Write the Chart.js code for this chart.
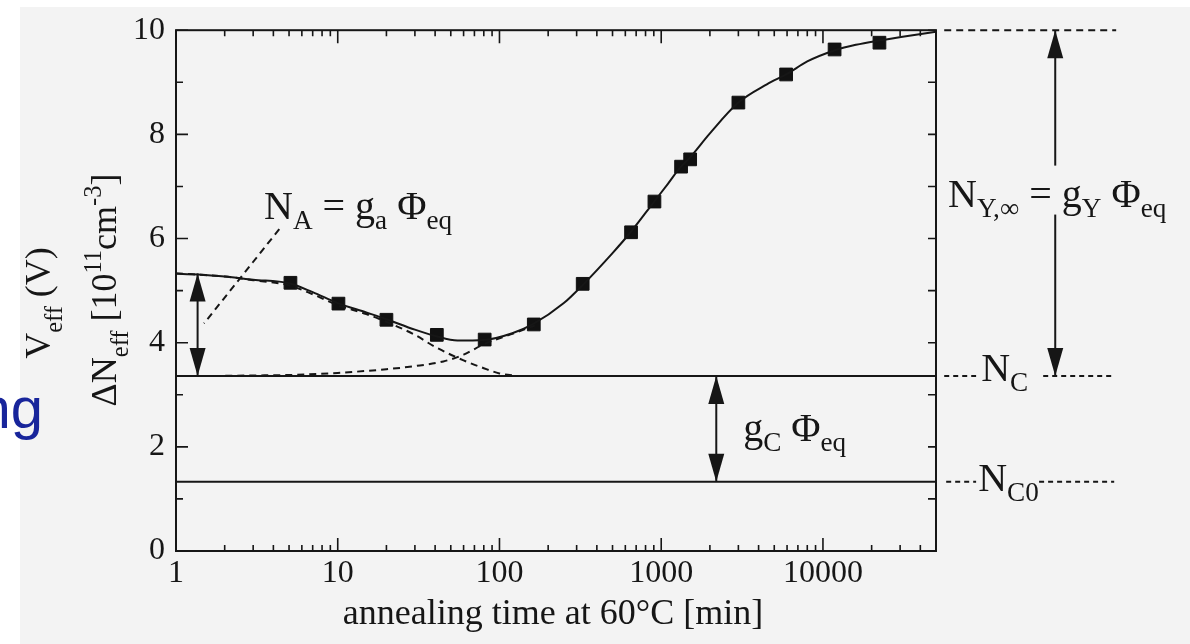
<!DOCTYPE html>
<html><head><meta charset="utf-8">
<script src="https://cdn.jsdelivr.net/npm/chart.js@4.4.1/dist/chart.umd.min.js"></script>
<style>
html,body{margin:0;padding:0;background:#fff;}
#wrap{position:relative;width:1190px;height:644px;overflow:hidden;}
#scan{position:absolute;left:20px;top:7px;right:0;bottom:0;background:#f3f3f3;}
canvas{position:absolute;left:0;top:0;}
</style></head><body>
<div id="wrap"><div id="scan"></div><canvas id="c" width="1190" height="644"></canvas></div>
<script>
// ---- data ----
const markerTime = [5.1, 10.1, 20, 41, 81, 163, 327, 651, 908, 1327, 1510, 3000, 5920, 11800, 22350];
const markerNeff = [5.15, 4.75, 4.44, 4.15, 4.06, 4.35, 5.13, 6.12, 6.71, 7.38, 7.52, 8.61, 9.15, 9.63, 9.76];
const fitTime = [1, 2, 3, 5, 7, 10, 15, 20, 30, 40, 55, 80, 120, 160, 250, 330, 500, 650, 900, 1100, 1300, 1500, 2000, 3000, 4500, 6000, 8000, 12000, 16000, 22000, 35000, 50000];
const fitNeff = [5.33, 5.27, 5.21, 5.14, 4.97, 4.76, 4.58, 4.45, 4.25, 4.13, 4.04, 4.05, 4.18, 4.35, 4.76, 5.12, 5.72, 6.13, 6.70, 7.05, 7.35, 7.55, 8.02, 8.61, 8.96, 9.16, 9.40, 9.62, 9.72, 9.80, 9.90, 9.97];
const decayTime = [1, 2, 3, 5, 7, 10, 15, 20, 30, 40, 60, 80, 100, 130];
const decayNeff = [5.33, 5.27, 5.20, 5.10, 4.93, 4.72, 4.55, 4.40, 4.15, 3.92, 3.66, 3.51, 3.41, 3.36];
const riseTime = [1.7, 3, 5, 10, 20, 30, 45, 60, 80, 120, 165];
const riseNeff = [3.36, 3.37, 3.38, 3.42, 3.49, 3.55, 3.64, 3.77, 3.97, 4.17, 4.33];
const levelNC = 3.36;
const levelNC0 = 1.33;
const levelTop = 10;
const leaderTime = [4.35, 1.49];
const leaderNeff = [6.18, 4.37];
const xTickLabels = [1, 10, 100, 1000, 10000];
const yTickLabels = [0, 2, 4, 6, 8, 10];
const xMin = 1, xMax = 50000;

const FONT = "'Liberation Serif','Times New Roman',serif";
const INK = '#161616';
const zip = (xs, ys) => xs.map((x, i) => ({x: x, y: ys[i]}));
const hline = (x1, x2, y) => [{x: x1, y: y}, {x: x2, y: y}];

function drawRich(ctx, parts, x, y, size, o) {
  o = o || {};
  const subScale = o.subScale || 0.68, subOff = o.subOff || 0.25, supOff = o.supOff || 0.42;
  const widths = parts.map(p => { ctx.font = (p[1] === 'n' ? size : size * subScale) + 'px ' + FONT; return ctx.measureText(p[0]).width; });
  const total = widths.reduce((a, b) => a + b, 0);
  let cx = o.align === 'center' ? x - total / 2 : x;
  ctx.textBaseline = 'alphabetic'; ctx.textAlign = 'left';
  parts.forEach((p, i) => {
    ctx.font = (p[1] === 'n' ? size : size * subScale) + 'px ' + FONT;
    const dy = p[1] === 'sub' ? subOff * size : (p[1] === 'sup' ? -supOff * size : 0);
    ctx.fillText(p[0], cx, y + dy);
    cx += widths[i];
  });
}

const annot = {
  id: 'annot',
  afterDraw(chart) {
    const ctx = chart.ctx, ca = chart.chartArea, xs = chart.scales.x, ys = chart.scales.y;
    const X = v => xs.getPixelForValue(v), Y = v => ys.getPixelForValue(v);
    ctx.save();
    ctx.strokeStyle = INK; ctx.fillStyle = INK; ctx.lineWidth = 2;
    // frame
    ctx.strokeRect(ca.left, ca.top, ca.right - ca.left, ca.bottom - ca.top);
    // inward ticks
    ctx.lineWidth = 1.6;
    ctx.beginPath();
    [1, 10, 100, 1000, 10000].forEach(d => {
      for (let m = 1; m <= 9; m++) {
        const v = m * d; if (v > xMax) break;
        const px = X(v), len = m === 1 ? 13 : 6;
        ctx.moveTo(px, ca.bottom); ctx.lineTo(px, ca.bottom - len);
        ctx.moveTo(px, ca.top); ctx.lineTo(px, ca.top + len);
      }
    });
    for (let v = 0; v <= 10; v++) {
      const py = Y(v);
      ctx.moveTo(ca.left, py); ctx.lineTo(ca.left + (v % 2 === 0 ? 12 : 7), py);
      ctx.moveTo(ca.right, py); ctx.lineTo(ca.right - 8, py);
    }
    ctx.stroke();
    // arrows
    const arrows = [
      {x: 1.36, y1: 5.33, y2: levelNC, h1: true, h2: true},
      {x: 2190, y1: levelNC, y2: levelNC0, h1: true, h2: true},
      {x: 273000, y1: levelTop, y2: 7.40, h1: true, h2: false},
      {x: 273000, y1: 6.46, y2: levelNC, h1: false, h2: true}
    ];
    ctx.lineWidth = 2;
    arrows.forEach(a => {
      const px = X(a.x), p1 = Y(a.y1), p2 = Y(a.y2);
      ctx.beginPath(); ctx.moveTo(px, p1); ctx.lineTo(px, p2); ctx.stroke();
      const head = (tip, dir) => {
        ctx.beginPath(); ctx.moveTo(px, tip); ctx.lineTo(px - 8, tip + dir * 28); ctx.lineTo(px + 8, tip + dir * 28); ctx.closePath(); ctx.fill();
      };
      const dir = p2 > p1 ? 1 : -1;
      if (a.h1) head(p1, dir);
      if (a.h2) head(p2, -dir);
    });
    // annotation labels (anchored at data coordinates)
    const labels = [
      {x: 3.50, y: 6.37, parts: [['N', 'n'], ['A', 'sub'], [' = g', 'n'], ['a', 'sub'], [' \u03A6', 'n'], ['eq', 'sub']]},
      {x: 59400, y: 6.60, parts: [['N', 'n'], ['Y,\u221E', 'sub'], [' = g', 'n'], ['Y', 'sub'], [' \u03A6', 'n'], ['eq', 'sub']]},
      {x: 95100, y: 3.26, parts: [['N', 'n'], ['C', 'sub']]},
      {x: 91200, y: 1.16, parts: [['N', 'n'], ['C0', 'sub']]},
      {x: 3210, y: 2.12, parts: [['g', 'n'], ['C', 'sub'], [' \u03A6', 'n'], ['eq', 'sub']]}
    ];
    labels.forEach(l => drawRich(ctx, l.parts, X(l.x), Y(l.y), 40, {}));
    // axis titles
    const midX = (ca.left + ca.right) / 2 - 3;
    drawRich(ctx, [['annealing time at 60\u00B0C [min]', 'n']], midX, 624, 36, {align: 'center'});
    ctx.save(); ctx.translate(50, 303); ctx.rotate(-Math.PI / 2);
    drawRich(ctx, [['V', 'n'], ['eff', 'sub'], [' (V)', 'n']], 0, 0, 36, {align: 'center', subOff: 0.33});
    ctx.restore();
    ctx.save(); ctx.translate(116, 290); ctx.rotate(-Math.PI / 2);
    drawRich(ctx, [['\u0394N', 'n'], ['eff', 'sub'], [' [10', 'n'], ['11', 'sup'], ['cm', 'n'], ['-3', 'sup'], [']', 'n']], 0, 0, 36, {align: 'center', subOff: 0.33});
    ctx.restore();
    // cropped slide text at far left
    ctx.font = "58px 'Liberation Sans', Arial, sans-serif";
    ctx.fillStyle = '#18259b'; ctx.textAlign = 'right'; ctx.textBaseline = 'alphabetic';
    ctx.fillText('ng', 43, 428);
    ctx.restore();
  }
};

const lineDs = (data, dash, extra) => Object.assign({
  data: data, showLine: true, borderColor: INK, borderWidth: 2, pointRadius: 0,
  borderDash: dash || [], cubicInterpolationMode: 'monotone', fill: false
}, extra || {});

new Chart(document.getElementById('c'), {
  type: 'scatter',
  data: {
    datasets: [
      lineDs(zip(fitTime, fitNeff)),
      lineDs(zip(decayTime, decayNeff), [7, 5]),
      lineDs(zip(riseTime, riseNeff), [7, 5]),
      lineDs(hline(xMin, xMax, levelNC)),
      lineDs(hline(xMin, xMax, levelNC0)),
      lineDs(zip(leaderTime, leaderNeff), [7, 5]),
      lineDs(hline(56200, 650000, levelTop), [7, 5], {clip: false}),
      lineDs(hline(56200, 88500, levelNC), [5, 4], {clip: false}),
      lineDs(hline(230000, 632000, levelNC), [5, 4], {clip: false}),
      lineDs(hline(57800, 88500, levelNC0), [5, 4], {clip: false}),
      lineDs(hline(217000, 632000, levelNC0), [5, 4], {clip: false}),
      {data: zip(markerTime, markerNeff), pointStyle: 'rect', pointRadius: 9, pointBackgroundColor: '#111', pointBorderColor: '#111', pointBorderWidth: 1, showLine: false}
    ]
  },
  options: {
    responsive: false, animation: false,
    layout: {padding: {left: 0, top: 27, right: 254, bottom: 0}},
    plugins: {legend: {display: false}, tooltip: {enabled: false}},
    scales: {
      x: {
        type: 'logarithmic', min: xMin, max: xMax,
        grid: {display: false, drawTicks: false}, border: {display: false},
        afterBuildTicks: s => { s.ticks = xTickLabels.map(v => ({value: v})); },
        afterFit: s => { s.height = 93; },
        ticks: {autoSkip: false, maxRotation: 0, padding: 3, color: INK, font: {family: FONT, size: 32}, callback: v => String(v)}
      },
      y: {
        min: 0, max: 10,
        grid: {display: false, drawTicks: false}, border: {display: false},
        afterBuildTicks: s => { s.ticks = yTickLabels.map(v => ({value: v})); },
        afterFit: s => { s.width = 176; },
        ticks: {padding: 11, color: INK, font: {family: FONT, size: 32}, callback: v => String(v)}
      }
    }
  },
  plugins: [annot]
});
</script>
</body></html>
